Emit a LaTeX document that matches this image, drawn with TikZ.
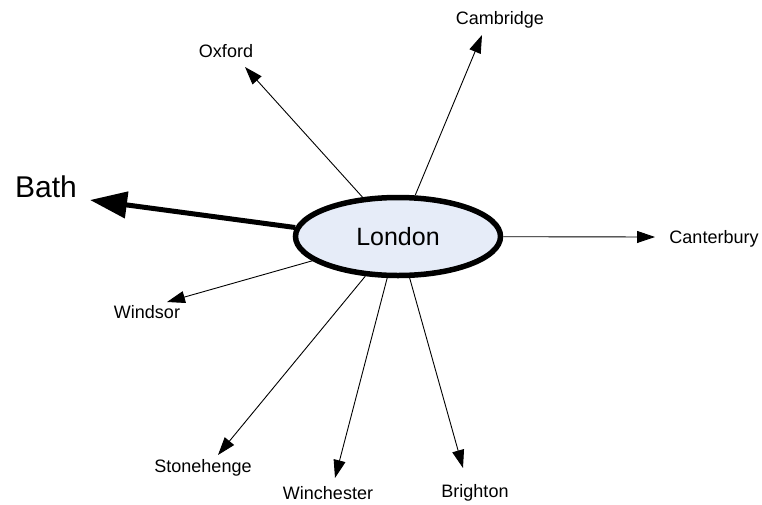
\documentclass[tikz,border=0pt]{standalone}
\usepackage{fontspec}
\setmainfont{Liberation Sans}
\usetikzlibrary{shapes.geometric,arrows.meta}
\definecolor{londonfill}{RGB}{230,236,248}
\begin{document}
\begin{tikzpicture}[x=1pt,y=-1pt,
  city/.style={inner sep=0pt,font=\fontsize{18}{18}\selectfont},
  thin arrow/.style={line width=0.9pt,-{Triangle[length=18pt,width=12pt]}},
  thick arrow/.style={line width=5pt,-{Triangle[length=37pt,width=26pt]}}]
\useasboundingbox (0,0) rectangle (762,504);
\node[ellipse,draw,line width=5.5pt,fill=londonfill,minimum width=205pt,minimum height=78pt,inner sep=0pt,font=\fontsize{25}{25}\selectfont] (london) at (398,236.5) {London};
% labels
\node[city] (oxford) at (226,51) {Oxford};
\node[city] (cambridge) at (500,20) {Cambridge};
\node[city] (canterbury) at (714,239) {Canterbury};
\node[city] (windsor) at (147,312) {Windsor};
\node[city] (stonehenge) at (203,468) {Stonehenge};
\node[city] (winchester) at (328,493) {Winchester};
\node[city] (brighton) at (475,493) {Brighton};
\node[inner sep=0pt,font=\fontsize{30}{30}\selectfont] (bath) at (46,187) {Bath};
% arrow tips
\coordinate (toxford) at (245,67);
\coordinate (tcambridge) at (482,35);
\coordinate (tcanterbury) at (655,237);
\coordinate (twindsor) at (167,302);
\coordinate (tstonehenge) at (218,455);
\coordinate (twinchester) at (335,478);
\coordinate (tbrighton) at (463,468);
\coordinate (tbath) at (90,200);
% connectors
\draw[thin arrow] (london) -- (toxford);
\draw[thin arrow] (london) -- (tcambridge);
\draw[thin arrow] (london) -- (tcanterbury);
\draw[thin arrow] (london) -- (twindsor);
\draw[thin arrow] (london) -- (tstonehenge);
\draw[thin arrow] (london) -- (twinchester);
\draw[thin arrow] (london) -- (tbrighton);
\draw[thick arrow] (london.175) -- (tbath);
\end{tikzpicture}
\end{document}
